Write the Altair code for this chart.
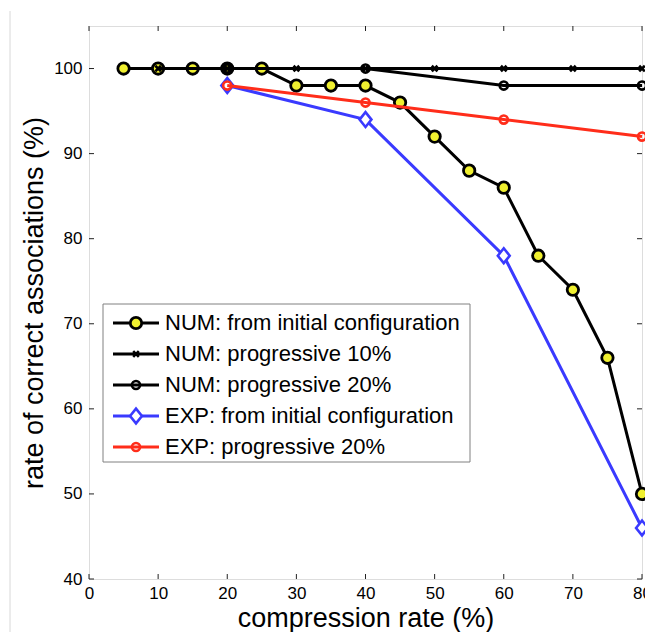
import altair as alt
import pandas as pd

# ---------------- data ----------------
x_num_init = [5, 10, 15, 20, 25, 30, 35, 40, 45, 50, 55, 60, 65, 70, 75, 80]
y_num_init = [100, 100, 100, 100, 100, 98, 98, 98, 96, 92, 88, 86, 78, 74, 66, 50]

x_num_p10 = [10, 20, 30, 40, 50, 60, 70, 80]
y_num_p10 = [100, 100, 100, 100, 100, 100, 100, 100]

x_num_p20 = [20, 40, 60, 80]
y_num_p20 = [100, 100, 98, 98]

x_exp_init = [20, 40, 60, 80]
y_exp_init = [98, 94, 78, 46]

x_exp_p20 = [20, 40, 60, 80]
y_exp_p20 = [98, 96, 94, 92]

labels = [
    "NUM: from initial configuration",
    "NUM: progressive 10%",
    "NUM: progressive 20%",
    "EXP: from initial configuration",
    "EXP: progressive 20%",
]

x_ticks = [0, 10, 20, 30, 40, 50, 60, 70, 80]
y_ticks = [40, 50, 60, 70, 80, 90, 100]

# ---------------- layout ----------------
W, H = 553, 553
PAD = {"left": 81, "top": 18, "right": 3, "bottom": 53}
FONT = "Liberation Sans"
YELLOW = "#f0f030"
BLUE = "#3a3aff"
RED = "#ff2d1a"

xs = alt.Scale(domain=[0, 80], nice=False, zero=False)
ys = alt.Scale(domain=[40, 105], nice=False, zero=False)

x_axis = alt.Axis(values=x_ticks, title="compression rate (%)", titleFontSize=27,
                  titleFont=FONT, titleFontWeight="normal", titleColor="black",
                  titleY=47, titleBaseline="alphabetic",
                  labelFontSize=17, labelFont=FONT, labelColor="black", labelPadding=6,
                  labelFlush=False, labelOverlap=False,
                  ticks=False, tickSize=0, domain=False, grid=False)
y_axis = alt.Axis(values=y_ticks, title="rate of correct associations (%)", titleFontSize=27,
                  titleFont=FONT, titleFontWeight="normal", titleColor="black",
                  titleX=-47, titleBaseline="alphabetic",
                  labelFontSize=17, labelFont=FONT, labelColor="black", labelPadding=7,
                  labelFlush=False, labelOverlap=False,
                  ticks=False, tickSize=0, domain=False, grid=False)

diamond = "M-0.8,0L0,-1L0.8,0L0,1Z"
xmark = "M-1,-1L1,1M-1,1L1,-1"

styles = [
    dict(line="black", mk=dict(shape="circle", size=130, filled=True, fill=YELLOW,
                               stroke="black", strokeWidth=2.8, opacity=1)),
    dict(line="black", mk=dict(shape=xmark, size=32, filled=False, stroke="black",
                               strokeWidth=2.6, opacity=1)),
    dict(line="black", mk=dict(shape="circle", size=66, filled=False, stroke="black",
                               strokeWidth=2.6, opacity=1)),
    dict(line=BLUE, mk=dict(shape=diamond, size=220, filled=True, fill="white",
                            stroke=BLUE, strokeWidth=2.6, opacity=1)),
    dict(line=RED, mk=dict(shape="circle", size=66, filled=False, stroke=RED,
                           strokeWidth=2.6, opacity=1)),
]

series = [
    (x_num_init, y_num_init),
    (x_num_p10, y_num_p10),
    (x_num_p20, y_num_p20),
    (x_exp_init, y_exp_init),
    (x_exp_p20, y_exp_p20),
]

one = pd.DataFrame({"a": [0]})
layers = []

# faint page edge line seen at the left of the reference
layers.append(alt.Chart(one).mark_rule(color="#d8d8d8", strokeWidth=1).encode(
    x=alt.value(-79), y=alt.value(-15), y2=alt.value(H + PAD["bottom"])))

# axes + inward ticks on all four sides
xt = pd.DataFrame({"x": x_ticks})
yt = pd.DataFrame({"y": y_ticks})
tick_color = "#222222"
layers.append(alt.Chart(xt).mark_rule(color=tick_color, strokeWidth=1).encode(
    x=alt.X("x:Q", scale=xs, axis=x_axis), y=alt.value(H), y2=alt.value(H - 5)))
layers.append(alt.Chart(xt).mark_rule(color=tick_color, strokeWidth=1).encode(
    x=alt.X("x:Q", scale=xs), y=alt.value(0), y2=alt.value(5)))
layers.append(alt.Chart(yt).mark_rule(color=tick_color, strokeWidth=1).encode(
    y=alt.Y("y:Q", scale=ys, axis=y_axis), x=alt.value(0), x2=alt.value(5)))
layers.append(alt.Chart(yt).mark_rule(color=tick_color, strokeWidth=1).encode(
    y=alt.Y("y:Q", scale=ys), x=alt.value(W), x2=alt.value(W - 5)))

for (xv, yv), st in zip(series, styles):
    df = pd.DataFrame({"x": xv, "y": yv})
    enc = dict(x=alt.X("x:Q", scale=xs), y=alt.Y("y:Q", scale=ys))
    layers.append(alt.Chart(df).mark_line(color=st["line"], strokeWidth=3).encode(**enc))
    layers.append(alt.Chart(df).mark_point(**st["mk"]).encode(**enc))

# ---------------- legend ----------------
layers.append(alt.Chart(one).mark_rect(fill="white", stroke="#808080", strokeWidth=1).encode(
    x=alt.value(14), x2=alt.value(381), y=alt.value(278), y2=alt.value(436)))
row_y = [297, 328, 359, 390, 421]
for lab, st, ry in zip(labels, styles, row_y):
    ldf = pd.DataFrame({"label": [lab]})
    layers.append(alt.Chart(ldf).mark_rule(color=st["line"], strokeWidth=3).encode(
        x=alt.value(24), x2=alt.value(70), y=alt.value(ry)))
    layers.append(alt.Chart(ldf).mark_point(**st["mk"]).encode(
        x=alt.value(47), y=alt.value(ry)))
    layers.append(alt.Chart(ldf).mark_text(align="left", baseline="middle", fontSize=22,
                                           font=FONT, color="black").encode(
        x=alt.value(76), y=alt.value(ry), text="label:N"))

chart = alt.layer(*layers).properties(
    width=W, height=H,
    autosize=alt.AutoSizeParams(type="none"),
    padding=PAD,
    background="white",
).configure_view(stroke="black", strokeWidth=1).configure(font=FONT)

chart.save("out.html", embed_options={"renderer": "svg", "actions": False})
